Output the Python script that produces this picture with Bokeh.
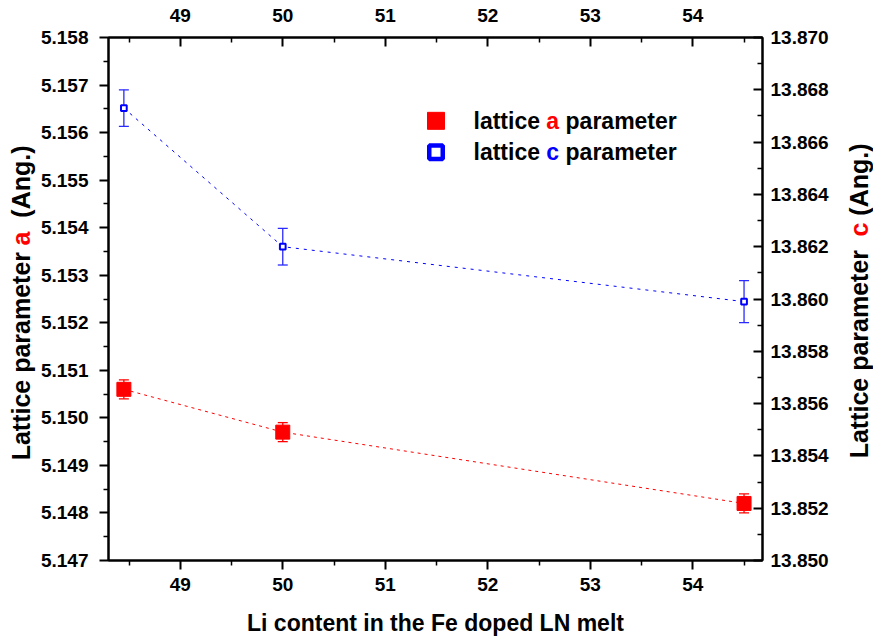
import math

from bokeh.core.properties import value
from bokeh.embed import file_html
from bokeh.layouts import row
from bokeh.models import (ColumnDataSource, FixedTicker, Label, LinearAxis,
                          NumeralTickFormatter, Range1d, TeeHead, Whisker)
from bokeh.plotting import figure
from bokeh.resources import INLINE

# Li content of the Fe doped LN melt (mol %)
li_content = [48.45, 50.0, 54.5]
# lattice parameter a (Angstrom) with error
lattice_a = [5.1506, 5.1497, 5.1482]
lattice_a_err = [0.0002, 0.0002, 0.0002]
# lattice parameter c (Angstrom) with error
lattice_c = [13.8673, 13.8620, 13.8599]
lattice_c_err = [0.0007, 0.0007, 0.0008]

x_ticks = [49, 50, 51, 52, 53, 54]
x_minor = [48.5, 49.5, 50.5, 51.5, 52.5, 53.5, 54.5]
a_ticks = [5.147, 5.148, 5.149, 5.150, 5.151, 5.152,
           5.153, 5.154, 5.155, 5.156, 5.157, 5.158]
a_minor = [5.1475, 5.1485, 5.1495, 5.1505, 5.1515, 5.1525,
           5.1535, 5.1545, 5.1555, 5.1565, 5.1575]
c_ticks = [13.850, 13.852, 13.854, 13.856, 13.858, 13.860,
           13.862, 13.864, 13.866, 13.868, 13.870]
c_minor = [13.851, 13.853, 13.855, 13.857, 13.859, 13.861,
           13.863, 13.865, 13.867, 13.869]

X0, X1 = 48.3, 54.68
A0, A1 = 5.147, 5.158
C0, C1 = 13.850, 13.870

W, H = 873, 638
STRIP_L, STRIP_R = 36, 33          # side strips holding the vertical titles
FL, FR, FT, FB = 108, 111, 37, 77  # frame borders measured on the whole page
MAIN_W = W - STRIP_L - STRIP_R
FRAME_W = W - FL - FR
FRAME_H = H - FT - FB

FONT = "Liberation Sans"
RED = "#ff0000"
BLUE = "#0000ff"

# advance widths of Arial/Liberation Sans Bold (units per 1000 em)
ADV = {" ": 278, "L": 611, "a": 556, "t": 333, "i": 278, "c": 556, "e": 556,
       "p": 611, "r": 389, "m": 889, "(": 333, "A": 722, "n": 611, "g": 611,
       ".": 278, ")": 333, "l": 278}


def text_w(s, size):
    return sum(ADV[ch] for ch in s) * size / 1000.0


def sx(px):
    return X0 + (px - FL) * (X1 - X0) / FRAME_W


def sy(py):
    return A1 - (py - FT) * (A1 - A0) / FRAME_H


p = figure(width=MAIN_W, height=H, x_range=Range1d(X0, X1), y_range=Range1d(A0, A1),
           output_backend="svg", toolbar_location=None,
           min_border_left=FL - STRIP_L, min_border_right=FR - STRIP_R,
           min_border_top=FT, min_border_bottom=FB)
p.extra_y_ranges = {"c": Range1d(C0, C1)}
p.xgrid.visible = False
p.ygrid.visible = False
p.outline_line_color = "black"
p.outline_line_width = 2
p.background_fill_color = "white"
p.border_fill_color = "white"

top_axis = LinearAxis()
right_axis = LinearAxis(y_range_name="c")
p.add_layout(top_axis, "above")
p.add_layout(right_axis, "right")


def style_axis(ax, ticks, minor, fmt, out, inn, mout, minn, standoff):
    ax.ticker = FixedTicker(ticks=ticks, minor_ticks=minor)
    ax.formatter = NumeralTickFormatter(format=fmt)
    ax.axis_line_color = "black"
    ax.axis_line_width = 2
    ax.major_tick_line_color = "black"
    ax.major_tick_line_width = 2
    ax.minor_tick_line_color = "black"
    ax.minor_tick_line_width = 1.5
    ax.major_tick_out = out
    ax.major_tick_in = inn
    ax.minor_tick_out = mout
    ax.minor_tick_in = minn
    ax.major_label_standoff = standoff
    ax.major_label_text_font = FONT
    ax.major_label_text_font_style = "bold"
    ax.major_label_text_font_size = "19px"
    ax.major_label_text_color = "black"


bottom_axis = p.below[0]
left_axis = p.left[0]
style_axis(bottom_axis, x_ticks, x_minor, "0", 9, 0, 5, 0, 8)
style_axis(top_axis, x_ticks, x_minor, "0", 0, 9, 0, 5, 16)
style_axis(left_axis, a_ticks, a_minor, "0.000", 9, 0, 5, 0, 11)
style_axis(right_axis, c_ticks, c_minor, "0.000", 0, 9, 0, 5, 8)

bottom_axis.axis_label = "Li content in the Fe doped LN melt"
bottom_axis.axis_label_text_font = FONT
bottom_axis.axis_label_text_font_style = "bold"
bottom_axis.axis_label_text_font_size = "23px"
bottom_axis.axis_label_text_color = "black"
bottom_axis.axis_label_standoff = 16

# error bars
src_a = ColumnDataSource(dict(
    x=li_content,
    lo=[v - e for v, e in zip(lattice_a, lattice_a_err)],
    hi=[v + e for v, e in zip(lattice_a, lattice_a_err)]))
src_c = ColumnDataSource(dict(
    x=li_content,
    lo=[v - e for v, e in zip(lattice_c, lattice_c_err)],
    hi=[v + e for v, e in zip(lattice_c, lattice_c_err)]))

wa = Whisker(base="x", lower="lo", upper="hi", source=src_a, dimension="height",
             line_color=RED, line_width=1.3, level="underlay",
             upper_head=TeeHead(size=10, line_color=RED, line_width=1.3),
             lower_head=TeeHead(size=10, line_color=RED, line_width=1.3))
wc = Whisker(base="x", lower="lo", upper="hi", source=src_c, dimension="height",
             y_range_name="c", line_color="#2a2aff", line_width=1.3, level="underlay",
             upper_head=TeeHead(size=10, line_color="#2a2aff", line_width=1.3),
             lower_head=TeeHead(size=10, line_color="#2a2aff", line_width=1.3))
p.add_layout(wa)
p.add_layout(wc)

# dashed connecting lines
p.line(li_content, lattice_a, line_color=RED, line_width=1, line_dash="3 4")
p.line(li_content, lattice_c, line_color=BLUE, line_width=1, line_dash="3 5",
       y_range_name="c")

# markers
p.scatter(li_content, lattice_a, marker="square", size=14,
          fill_color=RED, line_color=RED, line_width=1)
p.scatter(li_content, lattice_c, marker="square", size=5.7,
          fill_color="white", line_color=BLUE, line_width=2, y_range_name="c")

# legend
p.scatter([sx(435.5)], [sy(120.5)], marker="square", size=17,
          fill_color=RED, line_color=RED, line_width=1)
p.scatter([sx(435.5)], [sy(152)], marker="square", size=13.5,
          fill_color="white", line_color=BLUE, line_width=4.5)

LEG_SIZE = 23


def add_row(x_px, mid_px, letter, letter_color):
    parts = [("lattice", "black"), (letter, letter_color), ("parameter", "black")]
    x = x_px
    for txt, col in parts:
        p.add_layout(Label(x=sx(x), y=sy(mid_px), text=txt, text_color=col,
                           text_font=FONT, text_font_style="bold",
                           text_font_size=f"{LEG_SIZE}px",
                           text_align="left", text_baseline="middle"))
        x += text_w(txt, LEG_SIZE) + text_w(" ", LEG_SIZE)


add_row(473, 121, "a", RED)
add_row(473, 152, "c", BLUE)

# vertical axis titles with a coloured letter, each in its own side strip;
# the strip frame lines up with the main frame, so its y data equals H - pixel row
TITLE_SIZE = 25


def title_strip(width, x_mid, y_mid, parts):
    s = figure(width=width, height=H, x_range=Range1d(0, width),
               y_range=Range1d(FB, H - FT),
               output_backend="svg", toolbar_location=None,
               x_axis_location=None, y_axis_location=None,
               min_border_left=0, min_border_right=0,
               min_border_top=FT, min_border_bottom=FB, outline_line_color=None)
    s.xgrid.visible = False
    s.ygrid.visible = False
    total = sum(text_w(t, TITLE_SIZE) for t, _ in parts)
    y = H - (y_mid + total / 2)
    xs, ys, texts, colors = [], [], [], []
    for txt, col in parts:
        if txt.strip():
            xs.append(x_mid)
            ys.append(y)
            texts.append(txt)
            colors.append(col)
        y += text_w(txt, TITLE_SIZE)
    src = ColumnDataSource(dict(x=xs, y=ys, text=texts, color=colors))
    s.text(x="x", y="y", text="text", text_color="color", source=src,
           angle=math.pi / 2, text_font=value(FONT),
           text_font_style=value("bold"), text_font_size=value(f"{TITLE_SIZE}px"),
           text_align="left", text_baseline="middle")
    return s


left_strip = title_strip(STRIP_L, 20, 303,
                         [("Lattice parameter", "black"), (" ", None),
                          ("a", RED), ("  ", None), ("(Ang.)", "black")])
right_strip = title_strip(STRIP_R, 858 - (W - STRIP_R), 301,
                          [("Lattice parameter", "black"), ("  ", None), ("c", RED),
                           (" ", None), ("(Ang.)", "black")])

layout = row(left_strip, p, right_strip, spacing=0)
open("out.html", "w").write(file_html(layout, INLINE))
